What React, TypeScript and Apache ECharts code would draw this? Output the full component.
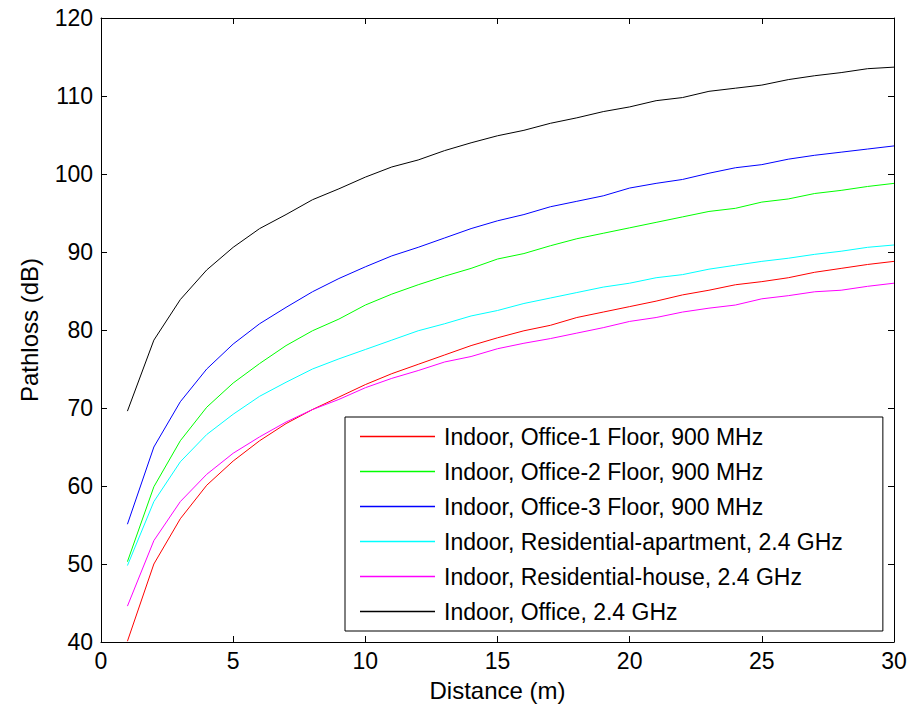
import React, { useEffect, useRef } from "react";
import * as echarts from "echarts";

const distances = Array.from({ length: 30 }, (_, i) => i + 1);

const seriesNames = [
  "Indoor, Office-1 Floor, 900 MHz",
  "Indoor, Office-2 Floor, 900 MHz",
  "Indoor, Office-3 Floor, 900 MHz",
  "Indoor, Residential-apartment, 2.4 GHz",
  "Indoor, Residential-house, 2.4 GHz",
  "Indoor, Office, 2.4 GHz",
];

const seriesColors = ["#ff0000", "#00ff00", "#0000ff", "#00ffff", "#ff00ff", "#000000"];

const office1 = [40.1, 50.0, 55.8, 60.1, 63.2, 65.8, 68.0, 69.8, 71.4, 73.0, 74.4, 75.6, 76.8, 78.0, 79.0, 79.9, 80.6, 81.6, 82.3, 83.0, 83.7, 84.5, 85.1, 85.8, 86.2, 86.7, 87.4, 87.9, 88.4, 88.8];
const office2 = [50.3, 59.9, 65.8, 70.1, 73.2, 75.7, 78.0, 79.9, 81.4, 83.2, 84.6, 85.8, 86.9, 87.9, 89.1, 89.8, 90.8, 91.7, 92.4, 93.1, 93.8, 94.5, 95.2, 95.6, 96.4, 96.8, 97.5, 97.9, 98.4, 98.8];
const office3 = [55.1, 65.0, 70.8, 75.0, 78.2, 80.8, 82.9, 84.9, 86.6, 88.1, 89.5, 90.6, 91.8, 93.0, 94.0, 94.8, 95.8, 96.5, 97.2, 98.2, 98.8, 99.3, 100.1, 100.8, 101.2, 101.9, 102.4, 102.8, 103.2, 103.6];
const resApartment = [49.8, 58.0, 63.1, 66.6, 69.2, 71.5, 73.3, 75.0, 76.3, 77.5, 78.7, 79.9, 80.8, 81.8, 82.5, 83.4, 84.1, 84.8, 85.5, 86.0, 86.7, 87.1, 87.8, 88.3, 88.8, 89.2, 89.7, 90.1, 90.6, 90.9];
const resHouse = [44.6, 53.0, 58.0, 61.5, 64.2, 66.3, 68.2, 69.8, 71.1, 72.6, 73.8, 74.8, 75.9, 76.6, 77.6, 78.3, 78.9, 79.6, 80.3, 81.1, 81.6, 82.3, 82.8, 83.2, 84.0, 84.4, 84.9, 85.1, 85.6, 86.0];
const officeGHz = [69.6, 78.7, 83.9, 87.7, 90.6, 93.0, 94.8, 96.7, 98.1, 99.6, 100.9, 101.8, 103.0, 104.0, 104.9, 105.6, 106.5, 107.2, 108.0, 108.6, 109.4, 109.8, 110.6, 111.0, 111.4, 112.1, 112.6, 113.0, 113.5, 113.7];

const allValues = [office1, office2, office3, resApartment, resHouse, officeGHz];

const FONT = "Liberation Sans, Arial, sans-serif";

export default function App() {
  const ref = useRef<HTMLDivElement>(null);
  useEffect(() => {
    if (!ref.current) return;
    const chart = echarts.init(ref.current, null, { renderer: "svg" });
    const axisLine = { show: true, onZero: false, lineStyle: { color: "#000", width: 1 } };
    const tick = { show: true, inside: true, length: 6, lineStyle: { color: "#000" } };
    chart.setOption({
      animation: false,
      backgroundColor: "#fff",
      grid: { left: 101, right: 16, top: 18, bottom: 64, containLabel: false },
      legend: {
        orient: "vertical",
        left: 345,
        top: 417,
        padding: [8, 40, 8, 15],
        backgroundColor: "#fff",
        borderColor: "#000",
        borderWidth: 1,
        borderRadius: 0,
        icon: "rect",
        itemWidth: 75,
        itemHeight: 1.6,
        itemGap: 12,
        textStyle: { fontFamily: FONT, fontSize: 23, color: "#000", padding: [0, 0, 0, 4] },
        data: seriesNames,
      },
      xAxis: [
        {
          type: "value",
          min: 0,
          max: 30,
          interval: 5,
          position: "bottom",
          name: "Distance (m)",
          nameLocation: "middle",
          nameGap: 36,
          nameTextStyle: { fontFamily: FONT, fontSize: 24, color: "#000" },
          axisLine,
          axisTick: tick,
          axisLabel: { fontFamily: FONT, fontSize: 23, color: "#000", margin: 7 },
          splitLine: { show: false },
        },
        {
          type: "value",
          min: 0,
          max: 30,
          interval: 5,
          position: "top",
          axisLine,
          axisTick: tick,
          axisLabel: { show: false },
          splitLine: { show: false },
        },
      ],
      yAxis: [
        {
          type: "value",
          min: 40,
          max: 120,
          interval: 10,
          position: "left",
          name: "Pathloss (dB)",
          nameLocation: "middle",
          nameGap: 60,
          nameRotate: 90,
          nameTextStyle: { fontFamily: FONT, fontSize: 24, color: "#000" },
          axisLine,
          axisTick: tick,
          axisLabel: { fontFamily: FONT, fontSize: 23, color: "#000", margin: 8 },
          splitLine: { show: false },
        },
        {
          type: "value",
          min: 40,
          max: 120,
          interval: 10,
          position: "right",
          axisLine,
          axisTick: tick,
          axisLabel: { show: false },
          splitLine: { show: false },
        },
      ],
      series: seriesNames.map((name, i) => ({
        name,
        type: "line",
        xAxisIndex: 0,
        yAxisIndex: 0,
        showSymbol: false,
        symbol: "none",
        color: seriesColors[i],
        lineStyle: { color: seriesColors[i], width: 1 },
        data: distances.map((d, j) => [d, allValues[i][j]]),
      })),
    });
    return () => chart.dispose();
  }, []);
  return (
    <div
      ref={ref}
      style={{ position: "absolute", left: 0, top: 0, width: 910, height: 707 }}
    />
  );
}
